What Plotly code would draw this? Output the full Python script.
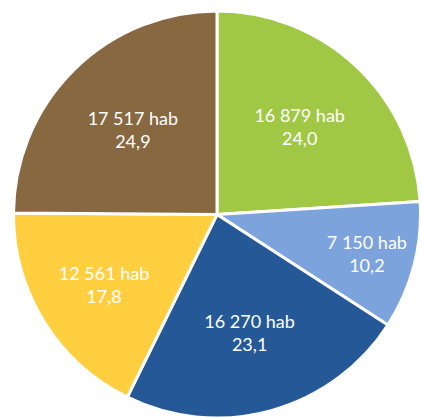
import plotly.graph_objects as go

categories = ["A", "B", "C", "D", "E"]
population = [16879, 7150, 16270, 12561, 17517]
percent_labels = ["24,0", "10,2", "23,1", "17,8", "24,9"]
colors = ["#A1C844", "#7CA3DB", "#245897", "#FFCF3F", "#876841"]

texts = [f"{p:,}".replace(",", " ") + " hab<br>" + pc for p, pc in zip(population, percent_labels)]

W, H = 421, 418
fig = go.Figure(go.Pie(
    labels=categories,
    values=population,
    text=texts,
    textinfo="text",
    textposition="inside",
    insidetextorientation="horizontal",
    sort=False,
    direction="clockwise",
    rotation=0,
    marker=dict(colors=colors, line=dict(color="white", width=3)),
    textfont=dict(color="white", size=18, family="Lato"),
    domain=dict(x=[13 / W, 1.0], y=[0.0, 407 / H]),
    hoverinfo="skip",
    showlegend=False,
))
fig.update_layout(
    width=W, height=H,
    margin=dict(l=0, r=0, t=0, b=0),
    paper_bgcolor="white",
    plot_bgcolor="white",
    uniformtext=dict(minsize=18, mode="show"),
)
fig.write_html(
    "out.html",
    config={"displayModeBar": False},
    post_script="document.body.style.margin='0';document.body.style.overflow='hidden';",
)
